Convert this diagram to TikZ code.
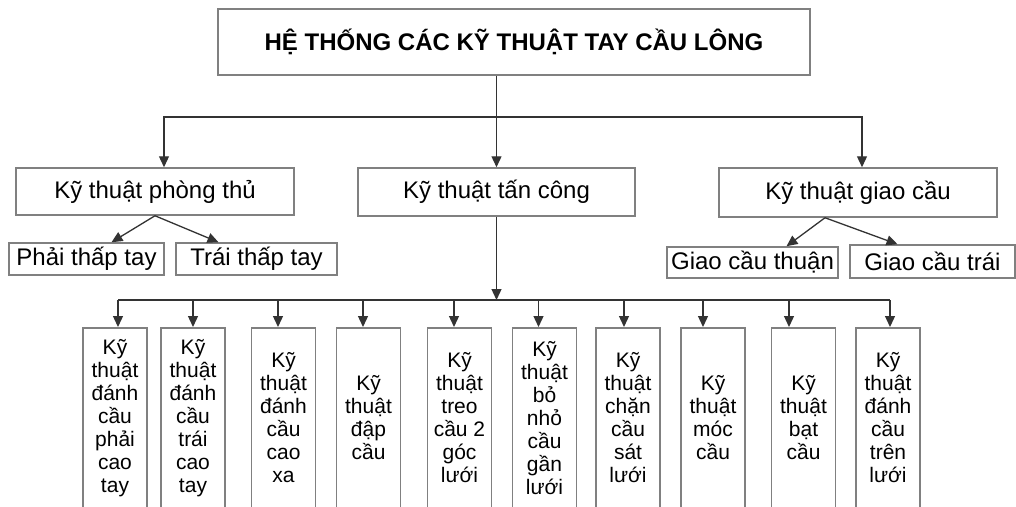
\documentclass[tikz,border=0pt]{standalone}
\usepackage{fontspec}
\setmainfont{Liberation Sans}
\usetikzlibrary{arrows.meta}

\tikzset{
    box/.style={draw=black!50, line width=1.5pt, inner sep=2pt},
    kbox/.style={box, anchor=north, minimum width=64pt, minimum height=180pt,
        align=center, font=\fontsize{21}{23}\selectfont},
    lnk/.style={draw=black!80, line width=1.3pt},
    arr/.style={lnk, -{Triangle[width=10pt,length=11pt]}},
}

\begin{document}
\begin{tikzpicture}[x=1pt,y=-1pt]
        \useasboundingbox (0,0) rectangle (1016,506);

        % Title
        \node[box, minimum width=592pt, minimum height=66pt,
            font=\fontsize{24}{28}\selectfont\bfseries] (he) at (514,42)
            {HỆ THỐNG CÁC KỸ THUẬT TAY CẦU LÔNG};

        % Second row
        \begin{scope}[every node/.style={box, font=\fontsize{24}{28}\selectfont}]
            \node[minimum width=278pt, minimum height=47pt] (phong) at (155,191.5) {Kỹ thuật phòng thủ};
            \node[minimum width=277pt, minimum height=48pt] (tan) at (496.5,192) {Kỹ thuật tấn công};
            \node[minimum width=278pt, minimum height=49pt] (giao) at (858,192.5) {Kỹ thuật giao cầu};

            \node[minimum width=155pt, minimum height=32pt] (phai) at (86.5,259) {Phải thấp tay};
            \node[minimum width=161pt, minimum height=32pt] (traithap) at (256.5,259) {Trái thấp tay};
            \node[minimum width=171pt, minimum height=31pt] (thuan) at (752.5,262.5) {Giao cầu thuận};
            \node[minimum width=165pt, minimum height=33pt] (giaotrai) at (932.5,261.5) {Giao cầu trái};
        \end{scope}

        \coordinate (j1) at (496.5,117);
        \draw[lnk] (he.south -| tan.north) -- (j1);
        \draw[arr] (j1) -| ([xshift=9pt]phong.north);
        \draw[arr] (j1) -| ([xshift=4pt]giao.north);
        \draw[arr] (j1) -- (tan.north);

        \draw[arr] (phong.south) -- ([xshift=25pt]phai.north);
        \draw[arr] (phong.south) -- ([xshift=-38pt]traithap.north);
        \draw[arr] ([xshift=-33pt]giao.south) -- ([xshift=34pt]thuan.north);
        \draw[arr] ([xshift=-33pt]giao.south) -- ([xshift=-35pt]giaotrai.north);

        % Attack techniques
        \coordinate (bar) at (496.5,300);
        \draw[arr] (tan.south) -- (bar);

        \foreach \i/\x/\dx/\txt in {
            1/115/3/{Kỹ\\thuật\\đánh\\cầu\\phải\\cao\\tay},
            2/193/0/{Kỹ\\thuật\\đánh\\cầu\\trái\\cao\\tay},
            3/283.5/-5.5/{Kỹ\\thuật\\đánh\\cầu\\cao\\xa},
            4/368.5/-5.5/{Kỹ\\thuật\\đập\\cầu},
            5/459.5/-5.5/{Kỹ\\thuật\\treo\\cầu 2\\góc\\lưới},
            6/544.5/-6/{Kỹ\\thuật\\bỏ\\nhỏ\\cầu\\gần\\lưới},
            7/628/-4/{Kỹ\\thuật\\chặn\\cầu\\sát\\lưới},
            8/713/-10/{Kỹ\\thuật\\móc\\cầu},
            9/803.5/-14.5/{Kỹ\\thuật\\bạt\\cầu},
            10/888/2/{Kỹ\\thuật\\đánh\\cầu\\trên\\lưới}} {
            \node[kbox] (k\i) at (\x,327) {\txt};
            \draw[arr] ([xshift=\dx pt]k\i.north |- bar) -- ([xshift=\dx pt]k\i.north);
        }
        \draw[lnk] ([xshift=3pt]k1.north |- bar) -- ([xshift=2pt]k10.north |- bar);

\end{tikzpicture}
\end{document}
